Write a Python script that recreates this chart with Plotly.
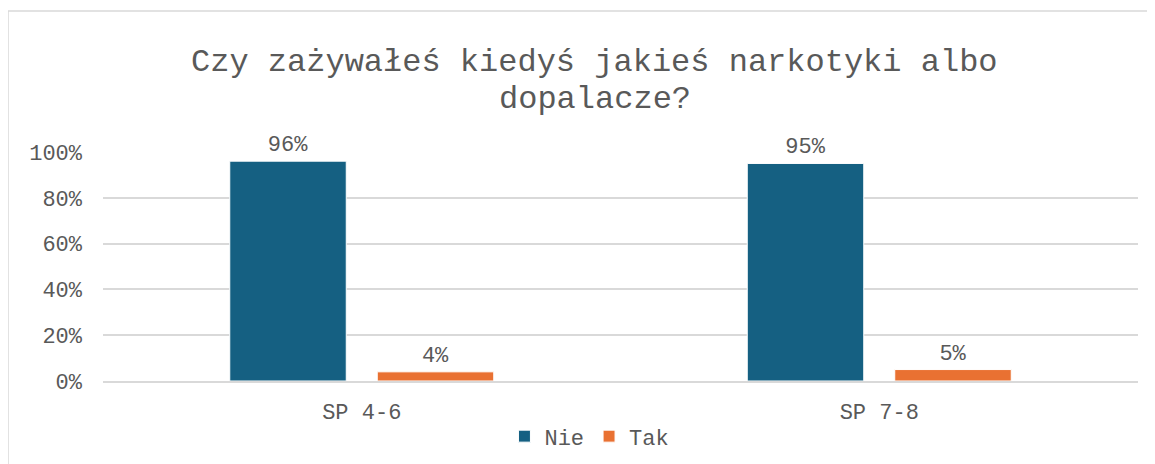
import plotly.graph_objects as go

# survey answers, share of pupils (%)
groups = ['SP 4-6', 'SP 7-8']
nie = [96, 95]
tak = [4, 5]

title_lines = ['Czy zażywałeś kiedyś jakieś narkotyki albo', 'dopalacze?']
font_name = 'Courier New, Nimbus Mono PS, FreeMono, Liberation Mono, monospace'
grey = '#595959'

# page body adds an 8px offset, so the margins are shifted by that
L, T, B, R = 95, 144, 91, 25
plot_h = 464 - T - B
plot_w = 1155 - L - R

fig = go.Figure()
fig.add_trace(go.Bar(x=groups, y=nie, name='Nie', marker_color='#156082',
                     marker_line=dict(color='#ffffff', width=1),
                     text=[f'{v}%' for v in nie], textposition='outside',
                     cliponaxis=False, textfont=dict(color=grey, size=22)))
fig.add_trace(go.Bar(x=groups, y=tak, name='Tak', marker_color='#E97132',
                     marker_line=dict(color='#ffffff', width=1),
                     text=[f'{v}%' for v in tak], textposition='outside',
                     cliponaxis=False, textfont=dict(color=grey, size=22)))

fig.update_layout(
    width=1155, height=464,
    margin=dict(l=L, r=R, t=T, b=B, autoexpand=False),
    paper_bgcolor='white', plot_bgcolor='white',
    font=dict(family=font_name, color=grey, size=22),
    barmode='group', bargap=0.43, bargroupgap=0.21,
    legend=dict(orientation='h', x=0.47, xanchor='center', y=-0.15, yanchor='top',
                font=dict(size=22, color=grey), itemwidth=30),
    showlegend=True,
)

# title as two centred lines (centred on the chart area, not the plot)
for i, line in enumerate(title_lines):
    fig.add_annotation(text=line, xref='paper', yref='paper', x=0.475,
                       y=(464 - B - 54 - 38 * i) / plot_h, xanchor='center',
                       yanchor='middle', showarrow=False,
                       font=dict(size=32, color=grey))

fig.update_yaxes(range=[0, 100], dtick=20, ticksuffix='%', showgrid=True,
                 gridcolor='#d9d9d9', gridwidth=1.5, zeroline=False,
                 showline=False, ticklabelstandoff=20, automargin=False,
                 tickfont=dict(size=22, color=grey))
fig.update_xaxes(showline=True, linecolor='#d9d9d9', linewidth=2,
                 ticklabelstandoff=10, automargin=False,
                 tickfont=dict(size=22, color=grey))

# chart-area border (only top and left visible)
fig.add_shape(type='rect', xref='paper', yref='paper',
              x0=-L / plot_w, x1=1.3, y0=-1, y1=(464 - B - 3) / plot_h,
              line=dict(color='#d9d9d9', width=1.5), layer='below')

fig.write_html('out.html')
